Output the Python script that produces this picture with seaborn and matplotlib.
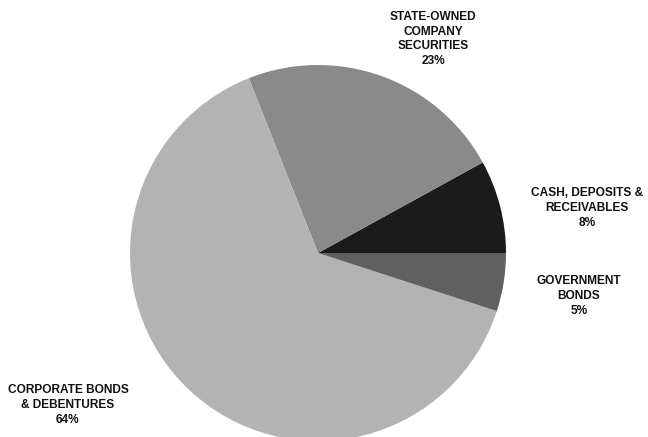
import matplotlib
matplotlib.use("Agg")
import matplotlib.pyplot as plt
import seaborn as sns

sns.set_theme(style="white")
plt.rcParams['font.family'] = ['Liberation Sans', 'DejaVu Sans']

categories = ["CASH, DEPOSITS &\nRECEIVABLES", "STATE-OWNED\nCOMPANY\nSECURITIES",
              "CORPORATE BONDS\n& DEBENTURES", "GOVERNMENT\nBONDS"]
values = [8, 23, 64, 5]
colors = ["#1b1b1b", "#8a8a8a", "#b3b3b3", "#606060"]
# label anchor positions in pixels (x from left, y from top)
label_pos = [(587, 208), (433, 39), (68, 405), (579, 296)]

W, H = 648, 437
fig = plt.figure(figsize=(W / 100, H / 100), dpi=100)
ax = fig.add_axes([0, 0, 1, 1])
cx, cy, r = 318, H - 253, 188
ax.pie(values, colors=colors, startangle=0, counterclock=True,
       center=(cx, cy), radius=r, wedgeprops=dict(linewidth=0))
ax.set_xlim(0, W)
ax.set_ylim(0, H)
ax.set_aspect('equal')
ax.axis('off')

for cat, v, (lx, ly) in zip(categories, values, label_pos):
    ax.text(lx, H - ly, f"{cat}\n{v}%", ha='center', va='center',
            fontsize=8.6, fontweight='bold', color='#111111', linespacing=1.32)

fig.savefig("out.png", dpi=100)
